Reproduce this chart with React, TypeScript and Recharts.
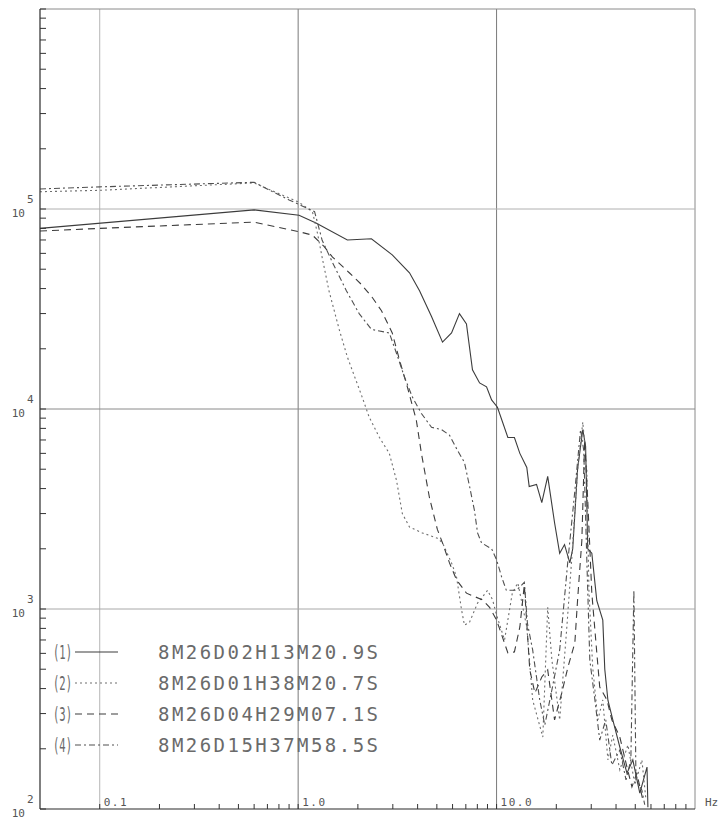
import React from 'react';
import { LineChart, Line, XAxis, YAxis, ReferenceLine, Legend } from 'recharts';

// Amplitude spectra of four records (frequency in Hz, amplitude on a log scale)
const freq1 = [0.05, 0.6, 1.01, 1.23, 1.77, 2.34, 2.98, 3.64, 4.09, 4.7, 5.34, 5.93, 6.5, 7.05, 7.56, 8.21, 8.9, 9.44, 10.1, 11.4, 12.3, 13.1, 14.2, 14.6, 15.9, 16.9, 18.1, 19.6, 20.8, 22.0, 23.4, 24.2, 25.6, 27.2, 28.1, 28.8, 30.2, 32.0, 34.3, 35.1, 36.4, 38.5, 41.8, 45.4, 48.6, 52.7, 57.3, 57.9];
const amp1 = [8.0e4, 9.9e4, 9.3e4, 8.5e4, 7.0e4, 7.1e4, 5.9e4, 4.8e4, 3.9e4, 2.9e4, 2.16e4, 2.4e4, 3.0e4, 2.66e4, 1.57e4, 1.35e4, 1.29e4, 1.11e4, 1.02e4, 7.2e3, 7.2e3, 6.0e3, 5.1e3, 4.1e3, 4.2e3, 3.4e3, 4.6e3, 2.7e3, 1.9e3, 2.1e3, 1.7e3, 2.0e3, 5.0e3, 7.9e3, 6.5e3, 2.0e3, 1.9e3, 1.1e3, 880, 500, 350, 280, 204, 151, 176, 120, 162, 102];

const freq2 = [0.05, 0.1, 0.6, 1.01, 1.18, 1.25, 1.32, 1.43, 1.61, 1.77, 2.1, 2.28, 2.57, 2.88, 3.13, 3.35, 3.64, 4.23, 5.03, 5.34, 5.93, 6.28, 6.66, 6.89, 7.31, 8.02, 9.01, 9.55, 10.0, 10.97, 12.0, 12.8, 14.2, 15.2, 17.1, 18.1, 19.0, 20.8, 22.6, 23.9, 25.6, 27.2, 28.5, 29.2, 30.5, 32.4, 34.3, 36.4, 38.5, 41.8, 45.9, 49.8, 54.0, 56.6];
const amp2 = [1.22e5, 1.24e5, 1.35e5, 1.08e5, 9.7e4, 7.6e4, 5.75e4, 3.9e4, 2.5e4, 1.82e4, 1.15e4, 9.1e3, 7.2e3, 6.0e3, 4.4e3, 3.0e3, 2.57e3, 2.4e3, 2.26e3, 2.14e3, 1.7e3, 1.45e3, 990, 830, 860, 1.07e3, 1.24e3, 1.11e3, 933, 700, 1.2e3, 1.35e3, 813, 351, 229, 1.02e3, 556, 279, 813, 1.76e3, 4.95e3, 8.6e3, 4.95e3, 1.24e3, 513, 279, 351, 176, 234, 157, 209, 132, 176, 111];

const freq3 = [0.05, 0.1, 0.6, 1.01, 1.18, 1.35, 1.49, 1.81, 2.08, 2.37, 2.63, 2.98, 3.24, 3.55, 3.94, 4.18, 4.59, 5.03, 5.34, 5.79, 6.28, 7.05, 8.49, 9.22, 10.0, 11.4, 12.3, 13.1, 13.8, 14.7, 15.6, 16.9, 18.1, 19.6, 21.3, 22.9, 24.8, 25.6, 26.9, 27.8, 28.8, 30.2, 32.0, 33.1, 36.0, 38.1, 41.8, 45.4, 48.1, 50.9, 54.6];
const amp3 = [7.76e4, 8.0e4, 8.6e4, 7.7e4, 7.4e4, 6.5e4, 5.75e4, 4.8e4, 4.2e4, 3.6e4, 3.1e4, 2.4e4, 1.76e4, 1.29e4, 8.8e3, 6.0e3, 3.6e3, 2.5e3, 2.14e3, 1.7e3, 1.4e3, 1.2e3, 1.11e3, 1.02e3, 881, 603, 610, 813, 1.32e3, 496, 380, 457, 496, 279, 380, 513, 676, 1.11e3, 2.2e3, 7.0e3, 3.5e3, 1.2e3, 603, 407, 351, 279, 229, 162, 129, 151, 111];

const freq4 = [0.05, 0.1, 0.6, 0.9, 1.21, 1.32, 1.49, 1.75, 2.03, 2.34, 2.88, 3.13, 3.43, 3.76, 4.18, 4.7, 5.27, 5.79, 6.36, 6.89, 7.31, 7.74, 8.02, 8.4, 9.44, 10.0, 10.6, 11.2, 12.6, 13.8, 14.3, 15.2, 16.5, 17.5, 19.0, 20.8, 22.9, 24.8, 26.5, 27.5, 28.5, 29.5, 31.3, 33.1, 35.5, 38.1, 41.8, 44.9, 47.5, 49.2, 50.4, 54.0, 55.8];
const amp4 = [1.26e5, 1.29e5, 1.36e5, 1.11e5, 9.7e4, 7.0e4, 5.4e4, 3.9e4, 3.0e4, 2.5e4, 2.4e4, 1.9e4, 1.45e4, 1.15e4, 9.5e3, 8.1e3, 7.9e3, 7.4e3, 6.2e3, 5.4e3, 4.1e3, 3.1e3, 2.4e3, 2.14e3, 2.0e3, 1.76e3, 1.45e3, 1.24e3, 1.24e3, 1.36e3, 851, 624, 351, 263, 394, 624, 1.76e3, 3.9e3, 7.9e3, 6.2e3, 1.76e3, 556, 351, 221, 279, 166, 197, 140, 176, 1.24e3, 140, 124, 105];

const seriesTags = ['(1)', '(2)', '(3)', '(4)'];
const seriesNames = ['8M26D02H13M20.9S', '8M26D01H38M20.7S', '8M26D04H29M07.1S', '8M26D15H37M58.5S'];

const xMajor = [0.1, 1, 10];
const xMajorLabels = ['0.1', '1.0', '10.0'];
const yMajor = [100, 1000, 10000, 100000];
const yExponents = ['2', '3', '4', '5'];

const lineStyles = [
  { stroke: '#3c3c3c', dash: undefined as string | undefined },
  { stroke: '#6e6e6e', dash: '2 3' },
  { stroke: '#3c3c3c', dash: '7 5' },
  { stroke: '#505050', dash: '6 3 2 3' },
];

const toPoints = (f: number[], a: number[]) => f.map((x, i) => ({ f: x, v: a[i] }));
const series = [toPoints(freq1, amp1), toPoints(freq2, amp2), toPoints(freq3, amp3), toPoints(freq4, amp4)];

// decade tick positions (1..9 per decade)
const xTicks: number[] = [];
for (const d of [0.1, 1, 10]) for (let m = 1; m <= 9; m++) xTicks.push(Number((d * m).toPrecision(3)));
const yTicks: number[] = [];
for (const d of [100, 1000, 10000, 100000]) for (let m = 1; m <= 9; m++) yTicks.push(d * m);
yTicks.push(1000000);

const labelColor = '#555';
const fontMono = '"DejaVu Sans Mono", monospace';

const XTick = (props: any) => {
  const { x, y, payload } = props;
  const v = payload.value;
  const idx = xMajor.findIndex((m) => Math.abs(m - v) < 1e-9);
  return (
    <g>
      <line x1={x} y1={y} x2={x} y2={y - 5} stroke="#333" strokeWidth={1} />
      {idx >= 0 && (
        <text x={x + 4} y={y - 3} fontSize={11} fill={labelColor} fontFamily={fontMono} letterSpacing={1.5}>
          {xMajorLabels[idx]}
        </text>
      )}
    </g>
  );
};

const YTick = (props: any) => {
  const { x, y, payload } = props;
  const v = payload.value;
  const idx = yMajor.findIndex((m) => Math.abs(m - v) < 1e-6);
  return (
    <g>
      <line x1={x} y1={y} x2={x + 6} y2={y} stroke="#333" strokeWidth={1} />
      {idx >= 0 && (
        <g fontFamily={fontMono} fill={labelColor}>
          <text x={x - 15} y={y + 8} fontSize={11} textAnchor="end">10</text>
          <text x={x - 13} y={y - 6} fontSize={11}>{yExponents[idx]}</text>
        </g>
      )}
    </g>
  );
};

const LegendBox = () => (
  <svg width={360} height={140} style={{ display: 'block' }}>
    {seriesNames.map((name, i) => {
      const cy = 27 + i * 31;
      const st = lineStyles[i];
      return (
        <g key={name} fill="#6a6a6a" fontFamily={fontMono}>
          <text x={13} y={cy + 7} fontSize={19} textLength={19} lengthAdjust="spacingAndGlyphs">
            {seriesTags[i]}
          </text>
          <line x1={35} y1={cy} x2={78} y2={cy} stroke={st.stroke} strokeWidth={1.2} strokeDasharray={st.dash} />
          <text x={118} y={cy + 7} fontSize={19} textLength={220} lengthAdjust="spacing">
            {name}
          </text>
        </g>
      );
    })}
  </svg>
);

export default function App() {
  return (
    <div style={{ position: 'absolute', left: 0, top: 0, width: 719, height: 819, background: '#fff' }}>
      <LineChart width={719} height={819} margin={{ top: 9, right: 24, bottom: 0, left: 0 }}>
        <XAxis
          dataKey="f"
          type="number"
          scale="log"
          domain={[0.05, 100]}
          allowDataOverflow
          ticks={xTicks}
          interval={0}
          height={10}
          tickSize={0}
          tickMargin={0}
          tickLine={false}
          axisLine={{ stroke: '#2a2a2a', strokeWidth: 1.2 }}
          tick={<XTick />}
        />
        <YAxis
          dataKey="v"
          type="number"
          scale="log"
          domain={[100, 1000000]}
          allowDataOverflow
          ticks={yTicks}
          interval={0}
          width={40}
          tickSize={0}
          tickMargin={0}
          tickLine={false}
          axisLine={{ stroke: '#2a2a2a', strokeWidth: 1.2 }}
          tick={<YTick />}
        />
        <ReferenceLine x={0.1} stroke="#b5b5b5" strokeWidth={1} />
        <ReferenceLine x={1} stroke="#7a7a7a" strokeWidth={1} />
        <ReferenceLine x={10} stroke="#7a7a7a" strokeWidth={1} />
        <ReferenceLine x={100} stroke="#8a8a8a" strokeWidth={1} />
        <ReferenceLine y={1000} stroke="#a8a8a8" strokeWidth={1} />
        <ReferenceLine y={10000} stroke="#8a8a8a" strokeWidth={1} />
        <ReferenceLine y={100000} stroke="#b0b0b0" strokeWidth={1} />
        <ReferenceLine y={1000000} stroke="#8a8a8a" strokeWidth={1} />
        {series.map((pts, i) => (
          <Line
            key={seriesNames[i]}
            data={pts}
            dataKey="v"
            name={seriesNames[i]}
            type="linear"
            stroke={lineStyles[i].stroke}
            strokeWidth={1.1}
            strokeDasharray={lineStyles[i].dash}
            dot={false}
            activeDot={false}
            isAnimationActive={false}
          />
        ))}
        <Legend
          layout="vertical"
          align="center"
          verticalAlign="middle"
          wrapperStyle={{ left: 40, top: 625, width: 360, height: 140 }}
          content={() => <LegendBox />}
        />
        <text x={705} y={806} fontSize={11} fill={labelColor} fontFamily={fontMono}>Hz</text>
      </LineChart>
    </div>
  );
}
